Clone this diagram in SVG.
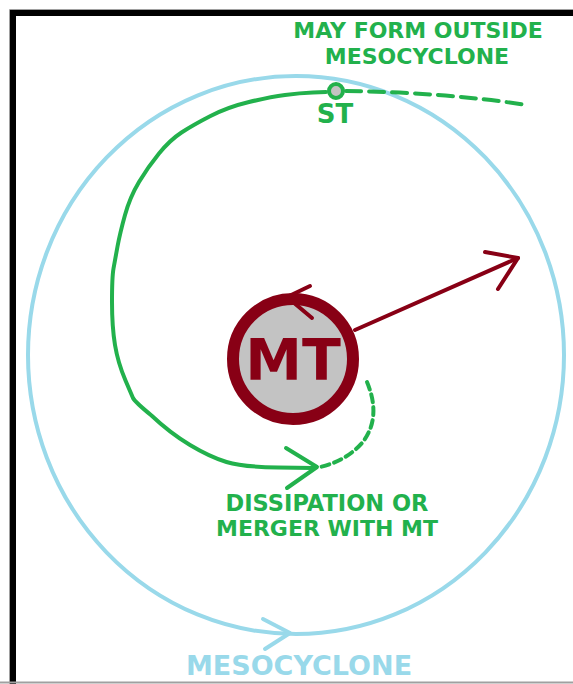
<svg xmlns="http://www.w3.org/2000/svg" width="573" height="684" viewBox="0 0 573 684">
<style>
.lbl{font-family:"DejaVu Sans","Verdana",sans-serif;font-weight:bold;}
.g{fill:#22b14c;}
.b{fill:#99d9ea;}
.r{fill:#880015;}
.gs{fill:none;stroke:#22b14c;stroke-width:4;stroke-linejoin:round;stroke-linecap:round;}
.rs{fill:none;stroke:#880015;stroke-width:4;stroke-linejoin:round;stroke-linecap:round;}
.bs{fill:none;stroke:#99d9ea;stroke-width:4;stroke-linejoin:round;stroke-linecap:round;}
</style>
<rect width="573" height="684" fill="#ffffff"/>
<g id="frame">
<path d="M9.5,684 V9.5 H573" fill="none" stroke="#a0a0a0" stroke-width="1"/>
<path d="M13,684 V13 H573" fill="none" stroke="#000000" stroke-width="6"/>
<line x1="0" y1="682.5" x2="573" y2="682.5" stroke="#a0a0a0" stroke-width="2"/>
</g>
<g id="mesocyclone">
<ellipse cx="296" cy="355" rx="268" ry="279" class="bs"/>
<polyline points="263,619 290,633 265,649" class="bs"/>
<text x="299" y="675" class="lbl b" font-size="27" text-anchor="middle">MESOCYCLONE</text>
</g>
<g id="connectors">
<path class="gs" d="M326,92 L313,92.5 Q300,93 285,95 Q270,97 249,102 Q228,107 210.5,116 Q193,125 181.5,132.5 Q170,140 159,153.5 Q148,167 139,182 Q130,197 125,215 Q120,233 117.5,246.5 Q115,260 113.5,268.5 Q112,277 112,302 Q112,327 115,345 Q118,363 125.5,380.5 L133,398 Q135,402 151.5,415.5 Q170,433 190,445 Q210,457 226.5,462 Q243,467 278,467.5 L313,468"/>
<polyline class="gs" points="286,448 317,467 287,488"/>
<path class="gs" d="M346,91 Q440,92 527,105" stroke-dasharray="15,8" stroke-linecap="butt"/>
<path class="gs" d="M367,382 Q382,418 362,443 Q346,461 320,467" stroke-dasharray="8,5" stroke-linecap="butt"/>
<line class="rs" x1="355" y1="330" x2="518" y2="258"/>
<polyline class="rs" points="485,252 518,258 498,289"/>
</g>
<g id="MT">
<circle cx="293" cy="359" r="60" fill="#c3c3c3" stroke="#880015" stroke-width="12"/>
<polyline class="rs" points="310,286 287,297 312,318"/>
<text x="293" y="380" class="lbl r" font-size="57" text-anchor="middle">MT</text>
</g>
<g id="ST">
<circle cx="336" cy="91" r="7" fill="#c3c3c3" stroke="#22b14c" stroke-width="4"/>
<text x="335" y="123" class="lbl g" font-size="26" text-anchor="middle">ST</text>
</g>
<g id="label-outside">
<text x="418" y="38" class="lbl g" font-size="22" text-anchor="middle">MAY FORM OUTSIDE</text>
<text x="417" y="64" class="lbl g" font-size="22" text-anchor="middle">MESOCYCLONE</text>
</g>
<g id="label-dissipation">
<text x="327" y="511" class="lbl g" font-size="22.5" text-anchor="middle">DISSIPATION OR</text>
<text x="327" y="536" class="lbl g" font-size="22" text-anchor="middle">MERGER WITH MT</text>
</g>
</svg>
